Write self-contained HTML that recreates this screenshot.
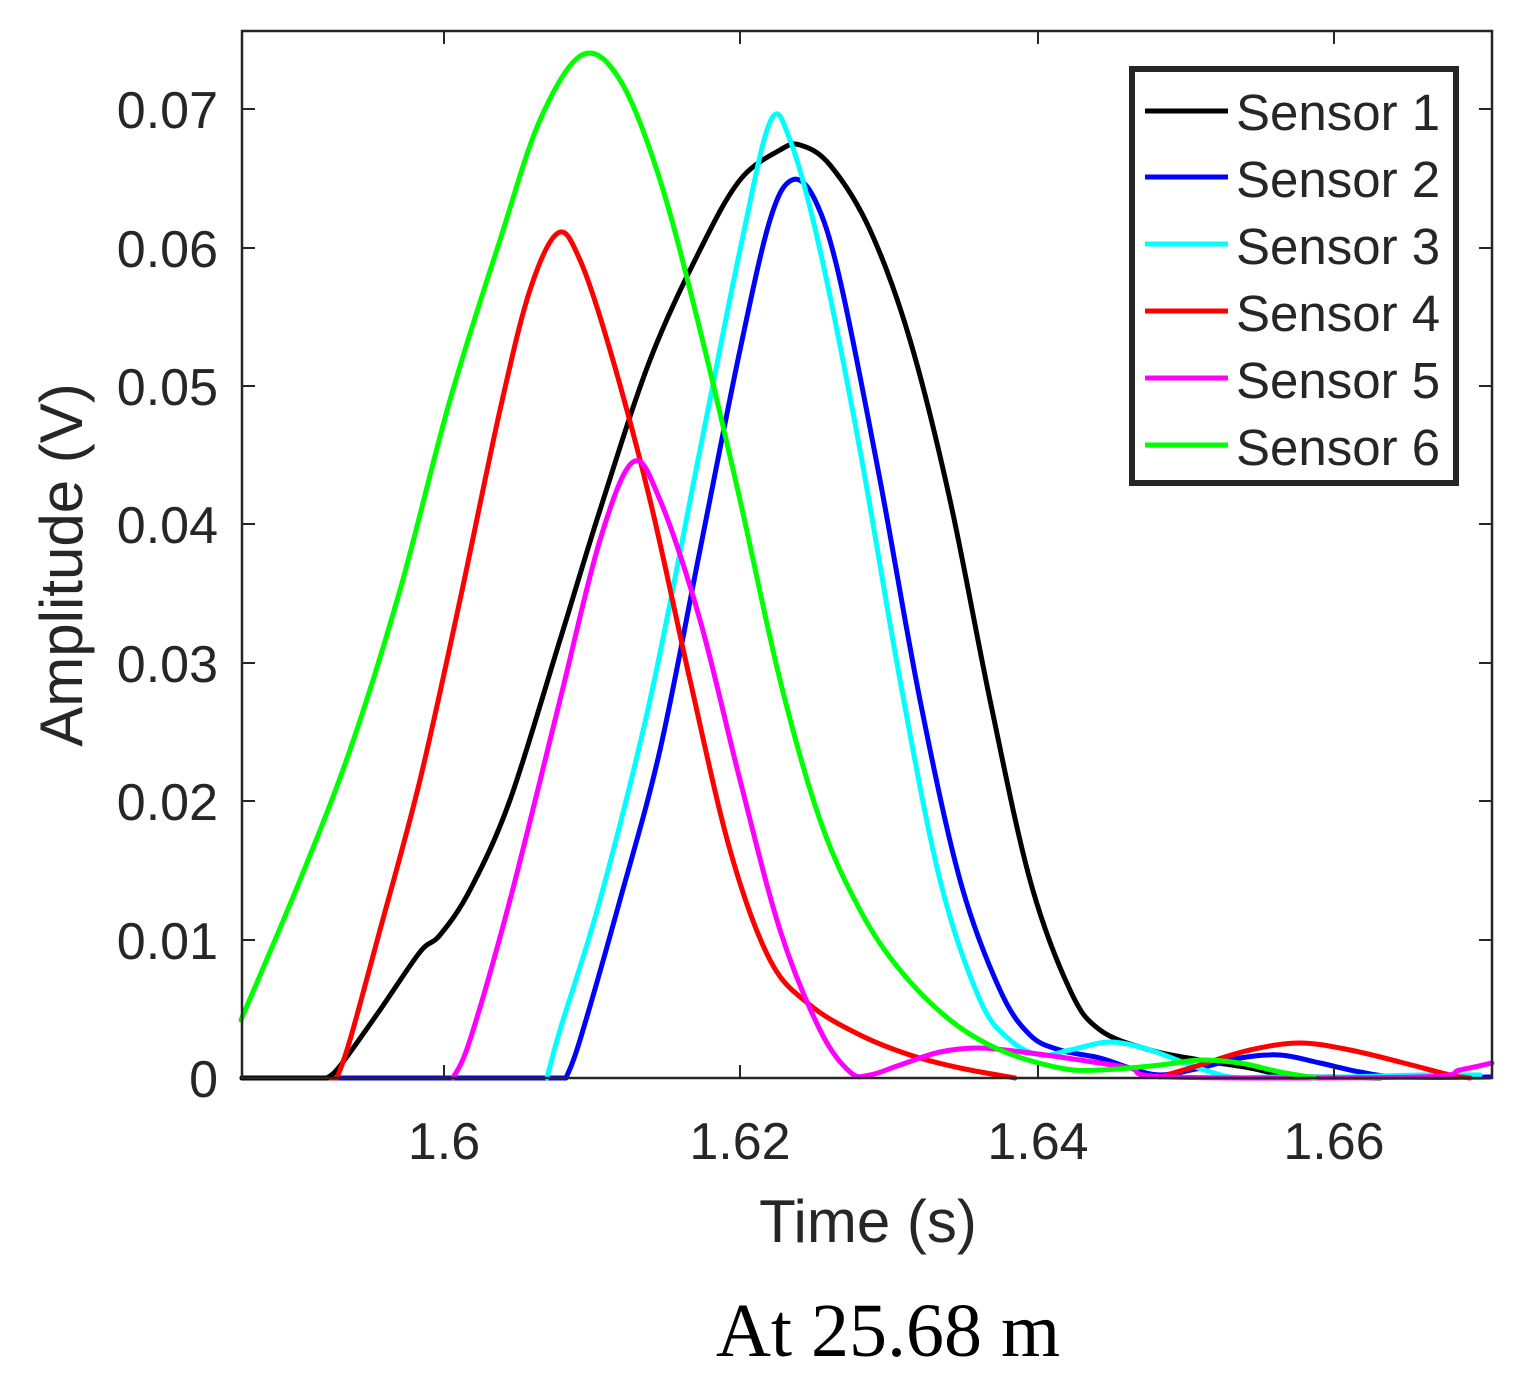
<!DOCTYPE html>
<html><head><meta charset="utf-8"><style>
html,body{margin:0;padding:0;background:#fff;}
svg{display:block}
text{font-family:"Liberation Sans",Arial,sans-serif;fill:#262626}
</style></head><body>
<svg id="s" width="1520" height="1384" viewBox="0 0 1520 1384" xmlns="http://www.w3.org/2000/svg">
<rect x="0" y="0" width="1520" height="1384" fill="#fff"/>
<g id="curves" fill="none" stroke-width="5" stroke-linejoin="round" stroke-linecap="round"></g>
<rect x="242" y="31" width="1250" height="1047" fill="none" stroke="#262626" stroke-width="2.5"/>
<g stroke="#262626" stroke-width="2">
<line x1="242" y1="109" x2="255" y2="109"/><line x1="1492" y1="109" x2="1479" y2="109"/>
<line x1="242" y1="248" x2="255" y2="248"/><line x1="1492" y1="248" x2="1479" y2="248"/>
<line x1="242" y1="386" x2="255" y2="386"/><line x1="1492" y1="386" x2="1479" y2="386"/>
<line x1="242" y1="524" x2="255" y2="524"/><line x1="1492" y1="524" x2="1479" y2="524"/>
<line x1="242" y1="663" x2="255" y2="663"/><line x1="1492" y1="663" x2="1479" y2="663"/>
<line x1="242" y1="801" x2="255" y2="801"/><line x1="1492" y1="801" x2="1479" y2="801"/>
<line x1="242" y1="940" x2="255" y2="940"/><line x1="1492" y1="940" x2="1479" y2="940"/>
<line x1="444" y1="1078" x2="444" y2="1065"/><line x1="444" y1="31" x2="444" y2="44"/>
<line x1="740" y1="1078" x2="740" y2="1065"/><line x1="740" y1="31" x2="740" y2="44"/>
<line x1="1038" y1="1078" x2="1038" y2="1065"/><line x1="1038" y1="31" x2="1038" y2="44"/>
<line x1="1334" y1="1078" x2="1334" y2="1065"/><line x1="1334" y1="31" x2="1334" y2="44"/>
</g>
<g font-size="52" text-anchor="end">
<text x="218" y="128">0.07</text><text x="218" y="267">0.06</text><text x="218" y="405">0.05</text>
<text x="218" y="543">0.04</text><text x="218" y="682">0.03</text><text x="218" y="820">0.02</text>
<text x="218" y="959">0.01</text><text x="218" y="1097">0</text>
</g>
<g font-size="52" text-anchor="middle">
<text x="444" y="1159">1.6</text><text x="740" y="1159">1.62</text><text x="1038" y="1159">1.64</text><text x="1334" y="1159">1.66</text>
</g>
<text x="868" y="1242" font-size="60" text-anchor="middle">Time (s)</text>
<text transform="translate(82,565) rotate(-90)" font-size="60" text-anchor="middle">Amplitude (V)</text>
<text x="888" y="1356" font-size="76" text-anchor="middle" style="font-family:'Liberation Serif',serif;fill:#000">At 25.68 m</text>
<rect x="1132" y="69" width="324" height="414" fill="#fff" stroke="#262626" stroke-width="6"/>
<g stroke-width="5">
<line x1="1145" y1="111" x2="1228" y2="111" stroke="#000"/>
<line x1="1145" y1="177" x2="1228" y2="177" stroke="#0000ff"/>
<line x1="1145" y1="244" x2="1228" y2="244" stroke="#00ffff"/>
<line x1="1145" y1="311" x2="1228" y2="311" stroke="#ff0000"/>
<line x1="1145" y1="378" x2="1228" y2="378" stroke="#ff00ff"/>
<line x1="1145" y1="445" x2="1228" y2="445" stroke="#00ff00"/>
</g>
<g font-size="51">
<text x="1236" y="130">Sensor 1</text><text x="1236" y="197">Sensor 2</text><text x="1236" y="264">Sensor 3</text>
<text x="1236" y="331">Sensor 4</text><text x="1236" y="398">Sensor 5</text><text x="1236" y="465">Sensor 6</text>
</g>
</svg>
<script>
function cr(p){var d="M"+p[0][0]+","+p[0][1];for(var i=0;i<p.length-1;i++){var a=p[i-1]||p[i],b=p[i],c=p[i+1],e=p[i+2]||c;
d+=" C"+(b[0]+(c[0]-a[0])/6).toFixed(1)+","+(b[1]+(c[1]-a[1])/6).toFixed(1)+" "+(c[0]-(e[0]-b[0])/6).toFixed(1)+","+(c[1]-(e[1]-b[1])/6).toFixed(1)+" "+c[0]+","+c[1];}return d;}
var S=[
["#ff00ff",[[242,1078],[453,1078]]],
["#00ffff",[[242,1078],[547,1078]]],
["#0000ff",[[242,1078],[566,1078]]],
["#ff0000",[[242,1078],[337,1078]]],
["#000",[[242,1078],[327,1078]]],
["#000",[[327,1078],[340,1066],[380,1010],[420,952],[440,935],[470,890],[510,800],[560,640],[600,510],[650,360],[700,250],[740,180],[780,150],[800,145],[830,165],[870,230],[910,340],[950,500],[990,700],[1030,880],[1070,990],[1100,1030],[1150,1050],[1200,1060],[1250,1068],[1290,1076],[1340,1077],[1380,1078]]],
["#0000ff",[[566,1078],[580,1040],[620,900],[660,750],[700,550],[740,350],[770,220],[792,180],[815,200],[840,280],[880,480],[920,700],[960,880],[1000,990],[1030,1035],[1060,1050],[1100,1058],[1130,1068],[1160,1075],[1200,1068],[1240,1058],[1280,1055],[1320,1063],[1360,1072],[1400,1077],[1490,1077]]],
["#00ffff",[[547,1078],[560,1030],[600,900],[650,700],[700,450],[740,250],[770,122],[790,140],[820,250],[860,450],[900,680],[940,880],[980,1000],[1010,1040],[1040,1055],[1070,1050],[1110,1042],[1150,1050],[1190,1065],[1230,1077],[1270,1077],[1340,1077],[1420,1075],[1480,1075]]],
["#ff0000",[[337,1078],[350,1040],[380,930],[420,780],[460,600],[500,410],[530,290],[558,233],[580,260],[610,350],[650,500],[690,680],[730,850],[770,960],[810,1005],[860,1035],[910,1055],[960,1068],[1015,1078]]],
["#ff0000",[[1160,1077],[1200,1065],[1250,1050],[1300,1043],[1350,1050],[1400,1062],[1450,1075],[1470,1078]]],
["#ff00ff",[[453,1078],[470,1040],[510,900],[560,700],[600,540],[633,462],[660,500],[700,620],[740,780],[780,930],[820,1030],[850,1072],[870,1075],[900,1065],[940,1052],[980,1048],[1030,1053],[1080,1060],[1130,1068],[1170,1077],[1420,1077],[1460,1070],[1492,1063]]],
["#00ff00",[[241,1020],[300,880],[350,750],[400,590],[450,400],[500,240],[540,120],[582,55],[620,80],[660,180],[700,330],[740,500],[780,680],[820,820],[860,910],[900,970],[950,1020],[1000,1050],[1060,1068],[1100,1070],[1160,1065],[1200,1060],[1240,1063],[1280,1072],[1315,1078]]]
];
var g=document.getElementById("curves");
S.forEach(function(s){var p=document.createElementNS("http://www.w3.org/2000/svg","path");p.setAttribute("d",s[1].length==2?("M"+s[1][0]+" L"+s[1][1]):cr(s[1]));p.setAttribute("stroke",s[0]);g.appendChild(p);});
</script>
</body></html>
